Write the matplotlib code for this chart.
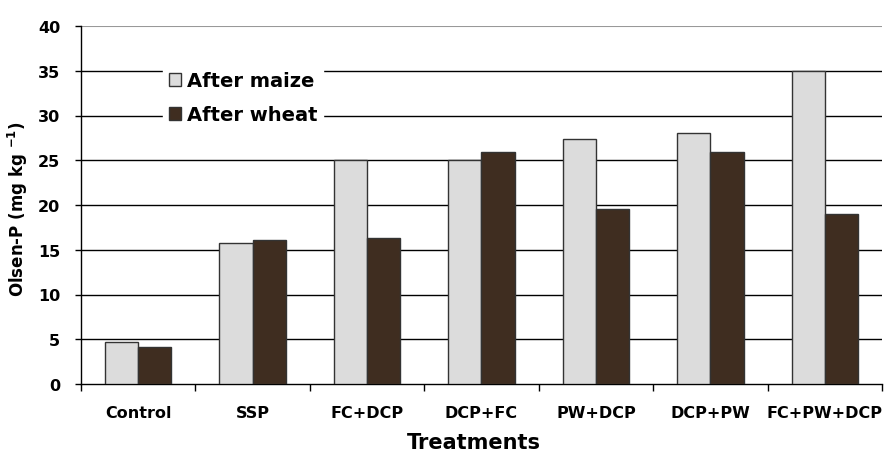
import numpy as np
import matplotlib
matplotlib.use("Agg")
import matplotlib.pyplot as plt

plt.rcParams['font.family'] = ['DejaVu Sans']
plt.rcParams['font.weight'] = 'bold'

treatments = ["Control", "SSP", "FC+DCP", "DCP+FC", "PW+DCP", "DCP+PW", "FC+PW+DCP"]
after_maize = [4.7, 15.7, 25.0, 25.0, 27.4, 28.0, 35.0]
after_wheat = [4.1, 16.1, 16.3, 25.9, 19.6, 25.9, 19.0]

fig = plt.figure(figsize=(8.84, 4.52), dpi=100)
ax = fig.add_axes([81/884, 67/452, 801/884, 358/452])

x = np.arange(len(treatments))
w = 0.29
ax.bar(x - w/2, after_maize, w, color='#dcdcdc', edgecolor='#333333', linewidth=1.0,
       label='After maize', zorder=3)
ax.bar(x + w/2, after_wheat, w, color='#3f2d20', edgecolor='#333333', linewidth=1.0,
       label='After wheat', zorder=3)

ax.set_xlim(-0.5, len(treatments) - 0.5)
ax.set_ylim(0, 40)
ax.set_yticks(np.arange(0, 41, 5))
for v in range(5, 40, 5):
    ax.axhline(v, color='black', linewidth=1.0, zorder=1)
ax.axhline(40, color='#999999', linewidth=1.5, zorder=1)

ax.set_xticks(x)
ax.set_xticklabels(treatments, fontsize=11.5, fontweight='bold')
ax.set_xticks(np.arange(-0.5, len(treatments)), minor=True)
ax.tick_params(axis='x', which='major', length=0, pad=15)
ax.tick_params(axis='x', which='minor', length=5, width=1, direction='out')
ax.tick_params(axis='y', length=4, width=1, direction='out', labelsize=11.5, pad=11)
for lab in ax.get_yticklabels():
    lab.set_fontweight('bold')

ax.spines['top'].set_visible(False)
ax.spines['right'].set_visible(False)
ax.spines['left'].set_linewidth(1.0)
ax.spines['bottom'].set_linewidth(1.0)

ax.set_xlabel('Treatments', fontsize=15, fontweight='bold')
ax.xaxis.set_label_coords(0.49, -0.135)
ax.set_ylabel('Olsen-P (mg kg $^{\\mathbf{-1}}$)', fontsize=12, fontweight='bold')
ax.yaxis.set_label_coords(-0.064, 0.49)

leg = ax.legend(loc='upper left', bbox_to_anchor=(0.09, 0.918), frameon=True,
                fontsize=14, handlelength=0.65, handleheight=0.65, handletextpad=0.3,
                labelspacing=0.8, borderpad=0.3, edgecolor='white', framealpha=1,
                fancybox=False)
for t in leg.get_texts():
    t.set_fontweight('bold')

fig.savefig('out.png', dpi=100)
